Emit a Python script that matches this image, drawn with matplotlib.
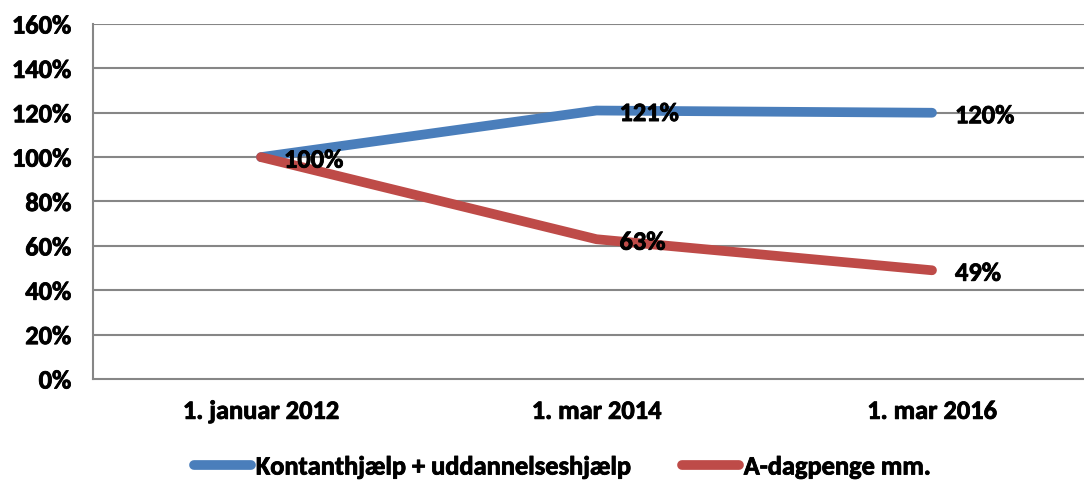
import matplotlib
matplotlib.use("Agg")
import matplotlib.pyplot as plt
import matplotlib.patheffects as pe
from matplotlib.ticker import FuncFormatter

categories = ["1. januar 2012", "1. mar 2014", "1. mar 2016"]
series_names = ["Kontanthjælp + uddannelseshjælp", "A-dagpenge mm."]
kontant = [1.00, 1.21, 1.20]
dagpenge = [1.00, 0.63, 0.49]
kontant_labels = ["100%", "121%", "120%"]
dagpenge_labels = ["", "63%", "49%"]
yticks = [0, 0.2, 0.4, 0.6, 0.8, 1.0, 1.2, 1.4, 1.6]

plt.rcParams["font.family"] = ["Carlito", "DejaVu Sans"]
plt.rcParams["font.weight"] = "bold"
FS = 19
thick = [pe.withStroke(linewidth=0.6, foreground="black")]

blue = "#4A7EBB"
red = "#BE4B48"
grid = "#868686"

fig = plt.figure(figsize=(10.84, 4.82), dpi=100)
W, H = 1084, 482
left, right, top, bottom = 93.25, 1084, 24, 379
ax = fig.add_axes([left / W, 1 - bottom / H, (right - left) / W, (bottom - top) / H])

x = list(range(len(categories)))
ax.set_xlim(-0.5, -0.5 + (right - left) / 335.5)
ax.set_ylim(0, 1.6)

ax.set_yticks(yticks)
ax.yaxis.set_major_formatter(FuncFormatter(lambda v, p: f"{v*100:.0f}%"))
for yv in yticks[1:]:
    ax.axhline(yv, color=grid, lw=1.5, zorder=1)

l1, = ax.plot(x, kontant, color=blue, lw=7, solid_capstyle="round", solid_joinstyle="round", zorder=3,
              label=series_names[0])
l2, = ax.plot(x, dagpenge, color=red, lw=7, solid_capstyle="round", solid_joinstyle="round", zorder=3,
              label=series_names[1])

for xi, yv, lab in zip(x, kontant, kontant_labels):
    if lab:
        ax.annotate(lab, (xi, yv), xytext=(23, -3), textcoords="offset pixels",
                    ha="left", va="center", fontsize=FS, fontweight="bold", zorder=5,
                    path_effects=thick)
for xi, yv, lab in zip(x, dagpenge, dagpenge_labels):
    if lab:
        ax.annotate(lab, (xi, yv), xytext=(23, -3), textcoords="offset pixels",
                    ha="left", va="center", fontsize=FS, fontweight="bold", zorder=5,
                    path_effects=thick)

ax.set_xticks(x)
ax.set_xticklabels(categories, fontsize=FS, fontweight="bold")
ax.tick_params(axis="x", length=0, pad=15)
ax.tick_params(axis="y", length=0, pad=16, labelsize=FS)
for lab in ax.get_yticklabels() + ax.get_xticklabels():
    lab.set_fontweight("bold")
    lab.set_path_effects(thick)

for s in ["top", "right"]:
    ax.spines[s].set_visible(False)
ax.spines["left"].set_color(grid)
ax.spines["left"].set_linewidth(1.5)
ax.spines["bottom"].set_color(grid)
ax.spines["bottom"].set_linewidth(1.5)

leg = fig.legend(handles=[l1, l2], loc="center", bbox_to_anchor=(562 / W, 1 - 467 / H), ncol=2,
                 frameon=False, handlelength=2.16, handletextpad=0.19, columnspacing=1.93,
                 borderpad=0, prop={"weight": "bold", "size": FS})
for t in leg.get_texts():
    t.set_path_effects(thick)

fig.savefig("out.png", dpi=100)
